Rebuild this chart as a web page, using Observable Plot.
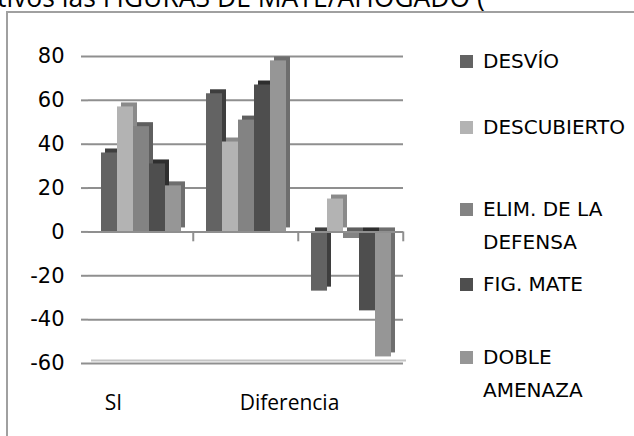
<!DOCTYPE html>
<html><head><meta charset="utf-8">
<script src="https://cdn.jsdelivr.net/npm/d3@7"></script>
<script src="https://cdn.jsdelivr.net/npm/@observablehq/plot@0.6"></script>
<style>
body{margin:0;width:634px;height:436px;overflow:hidden;background:#fff;font-family:"DejaVu Sans",sans-serif;position:relative}
#frame{position:absolute;left:6px;top:11px;width:700px;height:500px;border-left:2px solid #a0a0a0;border-top:2px solid #a0a0a0}
#title{position:absolute;left:-3px;top:-21px;font-family:"Open Sans",sans-serif;font-size:26.5px;white-space:nowrap;color:#000}
#chart{position:absolute;left:0;top:0}
.leg{position:absolute;left:460px;font-size:20px;line-height:33px;color:#000;white-space:pre}
.sw{position:absolute;left:0;top:10px;width:13px;height:13px}
.lt{position:absolute;left:23px;top:0}
.cat text{font-size:21px;font-family:"Open Sans",sans-serif}
</style></head><body>
<div id="title">tivos las FIGURAS DE MATE/AHOGADO (</div>
<div id="frame"></div>
<div id="chart"></div>
<script>
const categories = ["SI", "NO", "Diferencia"];
const series = ["DESVÍO", "DESCUBIERTO", "ELIM. DE LA DEFENSA", "FIG. MATE", "DOBLE AMENAZA"];
const legendLabels = ["DESVÍO", "DESCUBIERTO", "ELIM. DE LA\nDEFENSA", "FIG. MATE", "DOBLE\nAMENAZA"];
const valuesSI = [36, 57, 48, 31, 21];
const valuesNO = [63, 41, 51, 67, 78];
const valuesDif = [-27, 15, -3, -36, -57];
const yTicks = [-60, -40, -20, 0, 20, 40, 60, 80];
const shownCategoryLabels = ["SI", "Diferencia"];

const colors = ["#636363", "#b3b3b3", "#838383", "#4e4e4e", "#969696"];
const sideColors = ["#3e3e3e", "#8a8a8a", "#5f5f5f", "#2e2e2e", "#6e6e6e"];

const allValues = [valuesSI, valuesNO, valuesDif];
const data = [];
categories.forEach((c, i) => series.forEach((s, j) => data.push({cat: c, ser: s, v: allValues[i][j], k: j})));

const step = (634 - 87 - 231) / 3 / (5 + 1.4);
const chart = Plot.plot({
  width: 634, height: 436,
  marginLeft: 87, marginRight: 231, marginTop: 56, marginBottom: 73,
  style: {fontFamily: "DejaVu Sans, sans-serif", fontSize: "19px", color: "#000", background: "transparent"},
  fx: {domain: categories, padding: 0, axis: null},
  x: {domain: series, paddingInner: 0, paddingOuter: 0.7, axis: null},
  y: {domain: [-60, 80], ticks: yTicks, tickSize: 7, tickPadding: 17, label: null, line: false},
  marks: [
    Plot.ruleY(yTicks.filter(t => t !== 0 && t !== -60), {stroke: "#8f8f8f", strokeWidth: 2}),
    Plot.ruleY([-60], {stroke: "#c4c4c4", strokeWidth: 2, dy: -3, dx: 3}),
    Plot.ruleY([-60], {stroke: "#8f8f8f", strokeWidth: 2}),
    Plot.barY(data, {fx: "cat", x: "ser", y: "v", fill: d => sideColors[d.k], dx: 4, dy: -4}),
    Plot.barY(data, {fx: "cat", x: "ser", y: "v", fill: d => colors[d.k]}),
    Plot.ruleY([0], {stroke: "#8f8f8f", strokeWidth: 2}),
    Plot.ruleX(categories, {fx: d => d, x: () => series[4], dx: 1.2 * step, y1: 0, y2: -4.5, stroke: "#8f8f8f", strokeWidth: 2}),
    Plot.axisY({ticks: yTicks, tickFormat: d => String(d), tickSize: 7, tickPadding: 17, stroke: "#8f8f8f", strokeWidth: 2, fontSize: 21, label: null}),
    Plot.text([shownCategoryLabels[0]], {fx: () => categories[0], x: () => series[1], frameAnchor: "bottom", dy: 46, dx: -12, text: d => d, className: "cat"}),
    Plot.text([shownCategoryLabels[1]], {fx: () => categories[2], x: () => series[0], frameAnchor: "bottom", dy: 46, dx: -30, text: d => d, className: "cat"})
  ]
});
document.getElementById("chart").appendChild(chart);

const tops = [45, 111, 193, 268, 341];
legendLabels.forEach((lab, i) => {
  const d = document.createElement("div");
  d.className = "leg";
  d.style.top = tops[i] + "px";
  d.innerHTML = `<span class="sw" style="background:${colors[i]}"></span><span class="lt"></span>`;
  d.querySelector(".lt").textContent = lab;
  document.body.appendChild(d);
});
</script>
</body></html>
